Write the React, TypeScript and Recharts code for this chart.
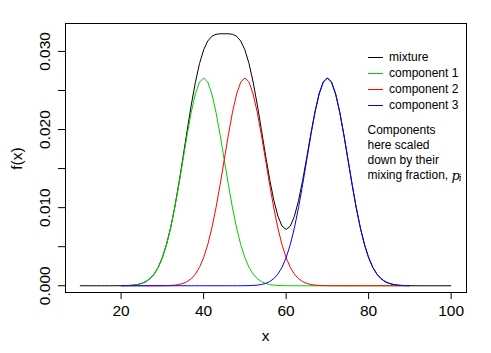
import React from 'react';
import { LineChart, Line, XAxis, YAxis, ReferenceArea } from 'recharts';

const xValues = [
  10, 11, 12, 13, 14, 15, 16, 17, 18, 19,
  20, 21, 22, 23, 24, 25, 26, 27, 28, 29,
  30, 31, 32, 33, 34, 35, 36, 37, 38, 39,
  40, 41, 42, 43, 44, 45, 46, 47, 48, 49,
  50, 51, 52, 53, 54, 55, 56, 57, 58, 59,
  60, 61, 62, 63, 64, 65, 66, 67, 68, 69,
  70, 71, 72, 73, 74, 75, 76, 77, 78, 79,
  80, 81, 82, 83, 84, 85, 86, 87, 88, 89,
  90, 91, 92, 93, 94, 95, 96, 97, 98, 99,
  100,
];

const mixture = [
  0, 0, 0, 0, 0, 0, 0, 0, 0, 0,
  0.00001, 0.00002, 0.00004, 0.00008, 0.00016, 0.0003, 0.00053, 0.00091, 0.00149, 0.00236,
  0.00361, 0.00528, 0.00743, 0.01006, 0.01311, 0.01643, 0.01984, 0.02312, 0.02604, 0.02843,
  0.0302, 0.03133, 0.03194, 0.03219, 0.03226, 0.03226, 0.03226, 0.03219, 0.03194, 0.03133,
  0.03021, 0.02845, 0.02608, 0.0232, 0.02, 0.01673, 0.01364, 0.01097, 0.00892, 0.00764,
  0.00721, 0.00762, 0.00888, 0.01089, 0.01348, 0.01643, 0.01947, 0.02229, 0.02459, 0.02609,
  0.02661, 0.02607, 0.02455, 0.02221, 0.01931, 0.01613, 0.01295, 0.00998, 0.00739, 0.00526,
  0.0036, 0.00236, 0.00149, 0.00091, 0.00053, 0.0003, 0.00016, 0.00008, 0.00004, 0.00002,
  0.00001, 0, 0, 0, 0, 0, 0, 0, 0, 0,
  0,
];

const component1 = [
  null, null, null, null, null, null, null, null, null, null,
  0.00001, 0.00002, 0.00004, 0.00008, 0.00016, 0.0003, 0.00053, 0.00091, 0.00149, 0.00236,
  0.0036, 0.00526, 0.00739, 0.00998, 0.01295, 0.01613, 0.01931, 0.02221, 0.02455, 0.02607,
  0.0266, 0.02607, 0.02455, 0.02221, 0.01931, 0.01613, 0.01295, 0.00998, 0.00739, 0.00526,
  0.0036, 0.00236, 0.00149, 0.00091, 0.00053, 0.0003, 0.00016, 0.00008, 0.00004, 0.00002,
  0.00001, 0, 0, 0, 0, 0, 0, 0, 0, 0,
  0, 0, 0, 0, 0, 0, 0, 0, 0, 0,
  0, 0, 0, 0, 0, 0, 0, 0, 0, 0,
  0, null, null, null, null, null, null, null, null, null,
  null,
];

const component2 = [
  null, null, null, null, null, null, null, null, null, null,
  0, 0, 0, 0, 0, 0, 0, 0, 0, 0,
  0.00001, 0.00002, 0.00004, 0.00008, 0.00016, 0.0003, 0.00053, 0.00091, 0.00149, 0.00236,
  0.0036, 0.00526, 0.00739, 0.00998, 0.01295, 0.01613, 0.01931, 0.02221, 0.02455, 0.02607,
  0.0266, 0.02607, 0.02455, 0.02221, 0.01931, 0.01613, 0.01295, 0.00998, 0.00739, 0.00526,
  0.0036, 0.00236, 0.00149, 0.00091, 0.00053, 0.0003, 0.00016, 0.00008, 0.00004, 0.00002,
  0.00001, 0, 0, 0, 0, 0, 0, 0, 0, 0,
  0, 0, 0, 0, 0, 0, 0, 0, 0, 0,
  0, null, null, null, null, null, null, null, null, null,
  null,
];

const component3 = [
  null, null, null, null, null, null, null, null, null, null,
  0, 0, 0, 0, 0, 0, 0, 0, 0, 0,
  0, 0, 0, 0, 0, 0, 0, 0, 0, 0,
  0, 0, 0, 0, 0, 0, 0, 0, 0, 0,
  0.00001, 0.00002, 0.00004, 0.00008, 0.00016, 0.0003, 0.00053, 0.00091, 0.00149, 0.00236,
  0.0036, 0.00526, 0.00739, 0.00998, 0.01295, 0.01613, 0.01931, 0.02221, 0.02455, 0.02607,
  0.0266, 0.02607, 0.02455, 0.02221, 0.01931, 0.01613, 0.01295, 0.00998, 0.00739, 0.00526,
  0.0036, 0.00236, 0.00149, 0.00091, 0.00053, 0.0003, 0.00016, 0.00008, 0.00004, 0.00002,
  0.00001, null, null, null, null, null, null, null, null, null,
  null,
];

const xTicks = [20, 40, 60, 80, 100];
const yTicks = [0, 0.005, 0.01, 0.015, 0.02, 0.025, 0.03];
const yLabelled = [0, 0.01, 0.02, 0.03];

const seriesDefs = [
  { key: 'mixture', name: 'mixture', color: '#000000' },
  { key: 'c1', name: 'component 1', color: '#00CD00' },
  { key: 'c2', name: 'component 2', color: '#FF0000' },
  { key: 'c3', name: 'component 3', color: '#0000FF' },
];

const noteLines = ['Components', 'here scaled', 'down by their', 'mixing fraction, '];

const data = xValues.map((x, i) => ({
  x,
  mixture: mixture[i],
  c1: component1[i],
  c2: component2[i],
  c3: component3[i],
}));

const FONT = '"Liberation Sans", Arial, Helvetica, sans-serif';
const SERIF = '"DejaVu Serif", "Liberation Serif", serif';
const X_DOMAIN: [number, number] = [6.4, 103.6];
const Y_DOMAIN: [number, number] = [-0.0008, 0.03364];

const XTick = (props: any) => {
  const { x, y, payload } = props;
  return (
    <text x={x} y={y + 9.5} textAnchor="middle" dominantBaseline="central" fontFamily={FONT} fontSize={15.5} fill="#000">
      {payload.value}
    </text>
  );
};

const YTick = (props: any) => {
  const { x, y, payload } = props;
  const v = payload.value;
  if (!yLabelled.some((t) => Math.abs(t - v) < 1e-9)) return <g />;
  const cx = x - 11;
  return (
    <text
      x={cx}
      y={y}
      transform={`rotate(-90 ${cx} ${y})`}
      textAnchor="middle"
      dominantBaseline="central"
      fontFamily={FONT}
      fontSize={15.5}
      fill="#000"
    >
      {v.toFixed(3)}
    </text>
  );
};

const XLabel = (props: any) => {
  const vb = props.viewBox || {};
  return (
    <text x={vb.x + vb.width / 2} y={vb.y + 43} textAnchor="middle" dominantBaseline="central" fontFamily={FONT} fontSize={15.5} fill="#000">
      x
    </text>
  );
};

const YLabel = (props: any) => {
  const vb = props.viewBox || {};
  const cx = 16.5;
  const cy = vb.y + vb.height / 2 + 1;
  return (
    <text x={cx} y={cy} transform={`rotate(-90 ${cx} ${cy})`} textAnchor="middle" dominantBaseline="central" fontFamily={FONT} fontSize={15.5} fill="#000">
      f(x)
    </text>
  );
};

export default function App() {
  return (
    <div style={{ position: 'absolute', left: 0, top: 0, width: 491, height: 353, background: '#fff' }}>
      <LineChart width={491} height={353} data={data} margin={{ top: 23, right: 25, bottom: 31, left: 0 }}>
        <XAxis
          dataKey="x"
          type="number"
          domain={X_DOMAIN}
          allowDataOverflow
          ticks={xTicks}
          interval={0}
          height={30}
          tickSize={7}
          tickMargin={2}
          axisLine={false}
          tickLine={{ stroke: '#000' }}
          tick={<XTick />}
          label={<XLabel />}
        />
        <YAxis
          type="number"
          domain={Y_DOMAIN}
          allowDataOverflow
          ticks={yTicks}
          interval={0}
          width={65}
          tickSize={7}
          tickMargin={2}
          axisLine={false}
          tickLine={{ stroke: '#000' }}
          tick={<YTick />}
          label={<YLabel />}
        />
        <ReferenceArea
          x1={X_DOMAIN[0]}
          x2={X_DOMAIN[1]}
          y1={Y_DOMAIN[0]}
          y2={Y_DOMAIN[1]}
          fill="none"
          fillOpacity={0}
          stroke="#000"
          strokeWidth={1}
          shapeRendering="crispEdges"
          ifOverflow="visible"
        />
        {seriesDefs.map((s) => (
          <Line
            key={s.key}
            dataKey={s.key}
            name={s.name}
            type="linear"
            stroke={s.color}
            strokeWidth={1}
            dot={false}
            activeDot={false}
            connectNulls={false}
            isAnimationActive={false}
          />
        ))}
      </LineChart>
      <svg width={491} height={353} style={{ position: 'absolute', left: 0, top: 0, pointerEvents: 'none' }}>
        {seriesDefs.map((s, i) => (
          <g key={s.key}>
            <line x1={368} x2={383} y1={57 + i * 16} y2={57 + i * 16} stroke={s.color} strokeWidth={1} shapeRendering="crispEdges" />
            <text x={389} y={57 + i * 16} dominantBaseline="central" fontFamily={FONT} fontSize={12} fill="#000">
              {s.name}
            </text>
          </g>
        ))}
        {noteLines.map((t, i) => (
          <text key={t} x={367.5} y={130 + i * 15} dominantBaseline="central" fontFamily={FONT} fontSize={12} fill="#000">
            {t}
            {i === noteLines.length - 1 ? (
              <>
                <tspan fontFamily={SERIF} fontStyle="italic" fontSize={13}>p</tspan>
                <tspan fontFamily={SERIF} fontStyle="italic" fontSize={9} dx={-1} dy={3}>i</tspan>
              </>
            ) : null}
          </text>
        ))}
      </svg>
    </div>
  );
}
